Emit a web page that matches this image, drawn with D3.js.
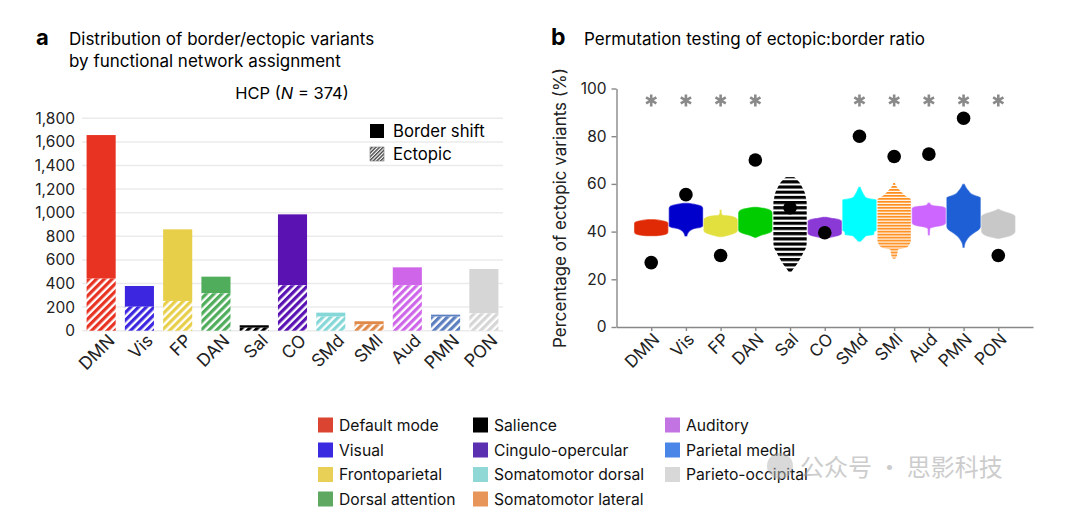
<!DOCTYPE html>
<html>
<head>
<meta charset="utf-8">
<script src="https://cdn.jsdelivr.net/npm/d3@7"></script>
<style>
  body { margin: 0; background: #fff; }
  svg { font-family: "Inter", "Roboto", sans-serif; }
</style>
</head>
<body>
<div id="canvas"></div>
<script>
// ---- data ----
var networks = ["DMN", "Vis", "FP", "DAN", "Sal", "CO", "SMd", "SMl", "Aud", "PMN", "PON"];
var totalCounts = [1658, 379, 859, 458, 46, 986, 153, 80, 537, 136, 523];
var ectopicCounts = [441, 203, 252, 317, 25, 385, 119, 54, 385, 119, 147];
var barColors = ["#e83323", "#3d26e0", "#e8cf4a", "#4fad5b", "#000000", "#5a12b3",
                 "#86d8d8", "#e08a4a", "#cf66ea", "#5b7fc0", "#d6d6d6"];
var countTicks = [0, 200, 400, 600, 800, 1000, 1200, 1400, 1600, 1800];

// observed percentage of ectopic variants and significance
var observedPct = [27, 55.5, 30, 70, 50, 39.5, 80, 71.5, 72.5, 87.5, 30];
var significant = [1, 1, 1, 1, 0, 0, 1, 1, 1, 1, 1];
var pctTicks = [0, 20, 40, 60, 80, 100];
var nullColors = ["#e02a05", "#0000cc", "#e2e03e", "#00cc00", "#000000", "#8a38d6",
                  "#00ffff", "#ff8c1a", "#cc66ff", "#1f5fd6", "#c8c8c8"];
var nullStriped = [0, 0, 0, 0, 1, 0, 0, 1, 0, 0, 0];

// permutation null outlines: [percent, relative width]
var nullDMN = [[38.3, 0.3], [38.7, 0.75], [39.3, 0.97], [40, 1], [43.4, 1], [44.1, 0.9], [44.6, 0.6], [45, 0.2]];
var nullVis = [[38.2, 0.05], [39.5, 0.12], [40.5, 0.25], [41.3, 0.5], [41.8, 0.85], [42.3, 1], [49.8, 1], [50.6, 0.92], [51.2, 0.65], [51.8, 0.15]];
var nullFP = [[37.9, 0.1], [38.6, 0.5], [39.6, 0.9], [40.6, 1], [44.9, 1], [45.8, 0.88], [46.5, 0.55], [46.9, 0.1], [48, 0.03], [49, 0.03]];
var nullDAN = [[37.6, 0.05], [38.4, 0.3], [39.2, 0.7], [40, 0.95], [40.7, 1], [47.8, 1], [48.8, 0.92], [49.6, 0.6], [50.2, 0.1]];
var nullSal = [[22.6, 0.04], [24.8, 0.25], [27, 0.48], [29.2, 0.66], [31.4, 0.82], [33.5, 0.97], [36, 1], [52, 1], [54.2, 0.95], [56.4, 0.88], [58.6, 0.73], [60.7, 0.56], [62.9, 0.25]];
var nullCO = [[37.2, 0.08], [37.8, 0.45], [38.5, 0.85], [39.3, 1], [44.3, 1], [45.1, 0.8], [45.6, 0.4], [46, 0.1]];
var nullSMd = [[36, 0.06], [36.6, 0.15], [37.3, 0.25], [38.3, 0.4], [38.8, 0.85], [40, 0.88], [40.6, 1], [53.3, 1], [53.6, 0.7], [54.2, 0.4], [55.5, 0.25], [57.2, 0.12], [58.6, 0.04]];
var nullSMl = [[28.6, 0.06], [29.6, 0.15], [31, 0.2], [32.4, 0.22], [33.2, 0.7], [34, 0.85], [35, 0.95], [35.8, 1], [53.6, 1], [54.4, 0.8], [55.8, 0.55], [57.2, 0.35], [58.8, 0.15], [60.7, 0.03]];
var nullAud = [[38.6, 0.03], [41.2, 0.05], [42, 0.3], [42.5, 0.7], [43.2, 0.95], [43.8, 1], [49.6, 1], [50.3, 0.85], [50.8, 0.3], [51.3, 0.1], [51.9, 0.05]];
var nullPMN = [[33.4, 0.03], [35.2, 0.08], [36.5, 0.18], [38, 0.35], [39.5, 0.62], [40.8, 0.9], [42, 1], [54.2, 1], [54.8, 0.8], [55.6, 0.5], [57, 0.3], [58.4, 0.15], [59.8, 0.05]];
var nullPON = [[37.2, 0.1], [37.8, 0.45], [38.6, 0.8], [39.5, 0.97], [40.2, 1], [46.3, 1], [47.2, 0.85], [48, 0.5], [48.7, 0.2], [49.3, 0.05]];
var nullProfiles = [nullDMN, nullVis, nullFP, nullDAN, nullSal, nullCO, nullSMd, nullSMl, nullAud, nullPMN, nullPON];
// discrete step of the striped nulls (100 / number of variants)
var nullStep = [0, 0, 0, 0, 100 / 46, 0, 0, 100 / 80, 0, 0, 0];

var legendNames = ["Default mode", "Visual", "Frontoparietal", "Dorsal attention",
                   "Salience", "Cingulo-opercular", "Somatomotor dorsal", "Somatomotor lateral",
                   "Auditory", "Parietal medial", "Parieto-occipital"];
var legendColors = ["#db4430", "#3a2be0", "#e8cf55", "#5fa862", "#000000", "#5a2fb0",
                    "#8fd8d6", "#e8955a", "#c374e3", "#4a86e8", "#d8d8d8"];

function redraw() {
  var canvas_w = 1080;
  var canvas_h = 515;

  var svg = d3.select("#canvas").append("svg")
    .attr("width", canvas_w)
    .attr("height", canvas_h);

  var defs = svg.append("defs");

  // Hatch patterns for the ectopic portion
  barColors.forEach(function(c, i) {
    var p = defs.append("pattern")
      .attr("id", "hatch-" + i)
      .attr("patternUnits", "userSpaceOnUse")
      .attr("width", 5.5)
      .attr("height", 5.5)
      .attr("patternTransform", "rotate(45)");
    p.append("rect").attr("width", 5.5).attr("height", 5.5).attr("fill", "#fff");
    p.append("rect").attr("width", 3.2).attr("height", 5.5).attr("fill", c);
  });
  var pl = defs.append("pattern")
    .attr("id", "hatch-legend")
    .attr("patternUnits", "userSpaceOnUse")
    .attr("width", 2.6)
    .attr("height", 2.6)
    .attr("patternTransform", "rotate(45)");
  pl.append("rect").attr("width", 2.6).attr("height", 2.6).attr("fill", "#fff");
  pl.append("rect").attr("width", 1.4).attr("height", 2.6).attr("fill", "#444");

  // ================= Panel a =================
  var xA = d3.scaleBand().domain(networks).range([82, 503])
    .paddingInner(0.24).paddingOuter(0.12);
  var yA = d3.scaleLinear().domain([0, 1800]).range([330.7, 118.3]);

  svg.append("text").attr("x", 36).attr("y", 45)
    .style("font-size", "22px").style("font-weight", "bold").text("a");
  svg.append("text").attr("x", 69).attr("y", 45)
    .style("font-size", "17px").text("Distribution of border/ectopic variants");
  svg.append("text").attr("x", 69).attr("y", 67)
    .style("font-size", "17px").text("by functional network assignment");
  var hcp = svg.append("text").attr("x", 292).attr("y", 99)
    .attr("text-anchor", "middle").style("font-size", "16.5px");
  hcp.append("tspan").text("HCP (");
  hcp.append("tspan").style("font-style", "italic").text("N");
  hcp.append("tspan").text(" = 374)");

  // grid
  svg.append("g").selectAll("line").data(countTicks).join("line")
    .attr("x1", 82).attr("x2", 503)
    .attr("y1", function(d) { return yA(d); })
    .attr("y2", function(d) { return yA(d); })
    .style("stroke", "#ebebeb").style("stroke-width", 1.5);

  var axA = svg.append("g").attr("transform", "translate(78,0)")
    .call(d3.axisLeft(yA).tickValues(countTicks).tickSize(0).tickPadding(3)
      .tickFormat(d3.format(",")));
  axA.select(".domain").remove();
  axA.selectAll("text").style("font-size", "15.5px").style("fill", "#222")
    .style("font-family", "Inter, Roboto, sans-serif");

  // border shift (total) bars
  svg.append("g").selectAll("rect").data(networks).join("rect")
    .attr("x", function(d) { return xA(d); })
    .attr("width", xA.bandwidth())
    .attr("y", function(d, i) { return yA(totalCounts[i]); })
    .attr("height", function(d, i) { return yA(ectopicCounts[i]) - yA(totalCounts[i]); })
    .style("fill", function(d, i) { return barColors[i]; });

  // ectopic bars
  svg.append("g").selectAll("rect").data(networks).join("rect")
    .attr("x", function(d) { return xA(d); })
    .attr("width", xA.bandwidth())
    .attr("y", function(d, i) { return yA(ectopicCounts[i]); })
    .attr("height", function(d, i) { return yA(0) - yA(ectopicCounts[i]); })
    .style("fill", function(d, i) { return "url(#hatch-" + i + ")"; });

  // x labels
  svg.append("g").selectAll("text").data(networks).join("text")
    .attr("transform", function(d) {
      return "translate(" + (xA(d) + xA.bandwidth() / 2 + 6) + ",333) rotate(-45)";
    })
    .attr("text-anchor", "end")
    .attr("dy", "0.7em")
    .style("font-size", "17.5px").style("fill", "#222")
    .text(function(d) { return d; });

  // legend a
  svg.append("rect").attr("x", 370).attr("y", 124).attr("width", 14).attr("height", 14).style("fill", "#000");
  svg.append("rect").attr("x", 370).attr("y", 147).attr("width", 14).attr("height", 14)
    .style("fill", "url(#hatch-legend)").style("stroke", "#777").style("stroke-width", 0.6);
  svg.append("text").attr("x", 393).attr("y", 137).style("font-size", "16.7px").text("Border shift");
  svg.append("text").attr("x", 393).attr("y", 160).style("font-size", "16.7px").text("Ectopic");

  // ================= Panel b =================
  var xB = d3.scalePoint().domain(networks).range([616.5, 1033]).padding(1);
  var yB = d3.scaleLinear().domain([0, 100]).range([327, 88.5]);
  var halfW = xB.step() * 0.48;

  svg.append("text").attr("x", 551).attr("y", 45)
    .style("font-size", "23px").style("font-weight", "bold").text("b");
  svg.append("text").attr("x", 584).attr("y", 45)
    .style("font-size", "17px").text("Permutation testing of ectopic:border ratio");

  svg.append("text")
    .attr("transform", "translate(566,208) rotate(-90)")
    .attr("text-anchor", "middle")
    .style("font-size", "17px").style("fill", "#222")
    .text("Percentage of ectopic variants (%)");

  var axY = svg.append("g").attr("transform", "translate(616.5,0)")
    .call(d3.axisLeft(yB).tickValues(pctTicks).tickSize(5).tickPadding(5).tickSizeOuter(0));
  axY.select(".domain").style("stroke", "#888").style("stroke-width", 1.4);
  axY.selectAll(".tick line").style("stroke", "#888").style("stroke-width", 1.4);
  axY.selectAll("text").style("font-size", "15.5px").style("fill", "#222")
    .style("font-family", "Inter, Roboto, sans-serif");

  var axX = svg.append("g").attr("transform", "translate(0,327)")
    .call(d3.axisBottom(xB).tickSize(4).tickSizeOuter(0).tickFormat(""));
  axX.select(".domain").style("stroke", "#888").style("stroke-width", 1.4);
  axX.selectAll(".tick line").style("stroke", "#888").style("stroke-width", 1.4);

  svg.append("g").selectAll("text").data(networks).join("text")
    .attr("transform", function(d) {
      return "translate(" + (xB(d) + 1) + ",332) rotate(-45)";
    })
    .attr("text-anchor", "end")
    .attr("dy", "0.7em")
    .style("font-size", "17px").style("fill", "#222")
    .text(function(d) { return d; });

  // stripe patterns for discrete nulls
  networks.forEach(function(n, i) {
    if (!nullStriped[i]) return;
    var period = yB(0) - yB(nullStep[i]);
    var p = defs.append("pattern")
      .attr("id", "stripe-" + i)
      .attr("patternUnits", "userSpaceOnUse")
      .attr("width", 10)
      .attr("height", period)
      .attr("patternTransform", "translate(0," + (yB(0) - period * 0.3) + ")");
    p.append("rect").attr("width", 10).attr("height", period * 0.6).attr("fill", nullColors[i]);
  });

  // null distributions
  var nullArea = d3.area()
    .curve(d3.curveMonotoneY)
    .y(function(d) { return yB(d[0]); });

  svg.append("g").selectAll("path").data(nullProfiles).join("path")
    .attr("d", function(prof, i) {
      var cx = xB(networks[i]);
      return nullArea
        .x0(function(d) { return cx - d[1] * halfW; })
        .x1(function(d) { return cx + d[1] * halfW; })(prof);
    })
    .style("fill", function(d, i) { return nullStriped[i] ? "url(#stripe-" + i + ")" : nullColors[i]; })
    .style("stroke", function(d, i) { return nullStriped[i] ? "none" : nullColors[i]; })
    .style("stroke-width", 1.2)
    .style("stroke-opacity", 0.6);

  // observed values
  svg.append("g").selectAll("circle").data(observedPct).join("circle")
    .attr("cx", function(d, i) { return xB(networks[i]); })
    .attr("cy", function(d) { return yB(d); })
    .attr("r", 6.8)
    .style("fill", "#000");

  // significance stars
  var star = d3.symbol().type(d3.symbolAsterisk).size(100);
  svg.append("g").selectAll("path")
    .data(networks.filter(function(d, i) { return significant[i]; }))
    .join("path")
    .attr("transform", function(d) { return "translate(" + xB(d) + "," + yB(95) + ")"; })
    .attr("d", star)
    .style("fill", "none")
    .style("stroke", "#8a8a8a")
    .style("stroke-width", 2.6);

  // ================= shared legend =================
  var legX = [318, 473, 665];
  var legY = [425, 450, 474.5, 499];
  legendNames.forEach(function(name, i) {
    var col = Math.floor(i / 4);
    var row = i % 4;
    svg.append("rect")
      .attr("x", legX[col]).attr("y", legY[row] - 7.5)
      .attr("width", 15).attr("height", 15)
      .style("fill", legendColors[i]);
    svg.append("text")
      .attr("x", legX[col] + 21).attr("y", legY[row])
      .attr("dy", "0.36em")
      .style("font-size", "15.7px").style("fill", "#111")
      .text(name);
  });

  // watermark
  var wm = svg.append("g").style("opacity", 0.5);
  wm.append("circle").attr("cx", 780).attr("cy", 466).attr("r", 13).style("fill", "#b5b5b5");
  wm.append("text").attr("x", 800).attr("y", 476)
    .style("font-family", "'Noto Sans CJK SC', sans-serif")
    .style("font-size", "24px").style("fill", "#9a9a9a")
    .text("公众号 · 思影科技");
}

redraw();
</script>
</body>
</html>
